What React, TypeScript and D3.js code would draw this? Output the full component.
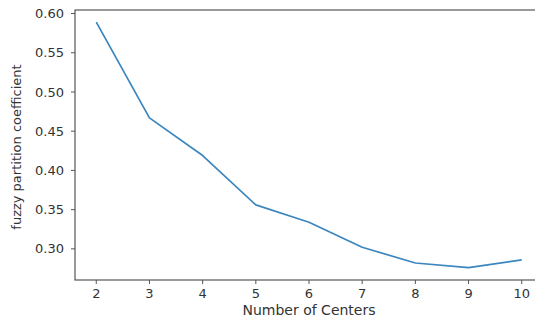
import React, { useEffect, useRef } from "react";
import * as d3 from "d3";

// number of centers vs fuzzy partition coefficient
const centers = [2, 3, 4, 5, 6, 7, 8, 9, 10];
const fpc = [0.589, 0.467, 0.419, 0.356, 0.334, 0.302, 0.282, 0.276, 0.286];
const yTicks = [0.3, 0.35, 0.4, 0.45, 0.5, 0.55, 0.6];

export default function App() {
  const ref = useRef<SVGSVGElement>(null);

  useEffect(() => {
    const svg = d3.select(ref.current);
    svg.selectAll("*").remove();

    const left = 75;
    const right = 543;
    const top = 10;
    const bottom = 280;
    const font = "DejaVu Sans, sans-serif";
    const textColor = "#333";

    const x = d3.scaleLinear().domain([1.6, 10.4]).range([left, right]);
    const y = d3.scaleLinear().domain([0.2603, 0.6045]).range([bottom, top]);

    const line = d3
      .line<number>()
      .x((d, i) => x(centers[i]))
      .y((d) => y(d));

    svg
      .append("path")
      .datum(fpc)
      .attr("fill", "none")
      .attr("stroke", "#3b86bf")
      .attr("stroke-width", 1.7)
      .attr("stroke-linejoin", "round")
      .attr("d", line);

    // axes frame
    svg
      .append("rect")
      .attr("x", left)
      .attr("y", top)
      .attr("width", right - left)
      .attr("height", bottom - top)
      .attr("fill", "none")
      .attr("stroke", "#555")
      .attr("stroke-width", 1.2);

    const xAxis = svg.append("g");
    centers.forEach((c) => {
      xAxis
        .append("line")
        .attr("x1", x(c))
        .attr("x2", x(c))
        .attr("y1", bottom)
        .attr("y2", bottom + 4)
        .attr("stroke", "#555");
      xAxis
        .append("text")
        .attr("x", x(c))
        .attr("y", bottom + 18)
        .attr("text-anchor", "middle")
        .attr("font-family", font)
        .attr("font-size", 13)
        .attr("fill", textColor)
        .text(c);
    });

    const yAxis = svg.append("g");
    yTicks.forEach((t) => {
      yAxis
        .append("line")
        .attr("x1", left - 4)
        .attr("x2", left)
        .attr("y1", y(t))
        .attr("y2", y(t))
        .attr("stroke", "#555");
      yAxis
        .append("text")
        .attr("x", left - 11)
        .attr("y", y(t))
        .attr("dy", "0.35em")
        .attr("text-anchor", "end")
        .attr("font-family", font)
        .attr("font-size", 13)
        .attr("fill", textColor)
        .text(t.toFixed(2));
    });

    svg
      .append("text")
      .attr("x", (left + right) / 2)
      .attr("y", 315)
      .attr("text-anchor", "middle")
      .attr("font-family", font)
      .attr("font-size", 14)
      .attr("fill", textColor)
      .text("Number of Centers");

    svg
      .append("text")
      .attr("transform", `translate(21,${(top + bottom) / 2 + 2}) rotate(-90)`)
      .attr("text-anchor", "middle")
      .attr("font-family", font)
      .attr("font-size", 13)
      .attr("fill", textColor)
      .text("fuzzy partition coefficient");
  }, []);

  return (
    <svg
      ref={ref}
      width={535}
      height={320}
      style={{ position: "absolute", left: 0, top: 0, background: "#fff" }}
    />
  );
}
